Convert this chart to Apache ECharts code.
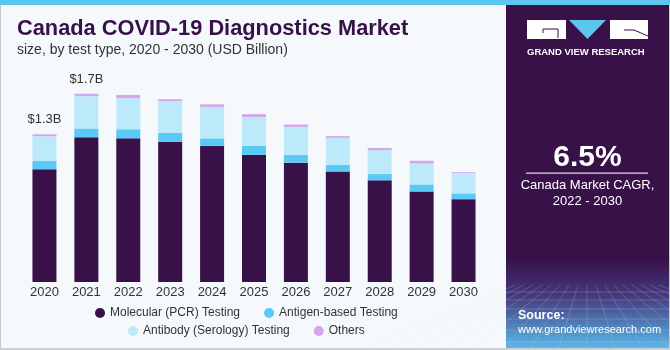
<!DOCTYPE html>
<html>
<head>
<meta charset="utf-8">
<script src="https://cdn.jsdelivr.net/npm/echarts@6/dist/echarts.min.js"></script>
<style>
  html, body { margin: 0; padding: 0; }
  #chart { width: 670px; height: 350px; }
</style>
</head>
<body>
<div id="chart"></div>
<script>
// values, USD billion
var years = ['2020', '2021', '2022', '2023', '2024', '2025', '2026', '2027', '2028', '2029', '2030'];
var molecular = [1.02, 1.31, 1.30, 1.27, 1.23, 1.15, 1.08, 1.00, 0.92, 0.82, 0.75];
var antigen = [0.075, 0.079, 0.082, 0.082, 0.07, 0.082, 0.069, 0.06, 0.057, 0.063, 0.052];
var antibody = [0.224, 0.293, 0.281, 0.284, 0.284, 0.26, 0.254, 0.245, 0.215, 0.19, 0.184];
var others = [0.018, 0.022, 0.03, 0.018, 0.024, 0.027, 0.022, 0.015, 0.021, 0.024, 0.008];
var totalLabels = ['$1.3B', '$1.7B'];

var PURPLE = '#381149';
var font = 'Liberation Sans';

var chart = echarts.init(document.getElementById('chart'));

function barSeries(name, data, color) {
  return {
    name: name,
    type: 'bar',
    stack: 'total',
    barWidth: 24,
    data: data,
    itemStyle: { color: color },
    emphasis: { disabled: true }
  };
}

var othersSeries = barSeries('Others', others.map(function (v, i) {
  if (i < totalLabels.length) {
    return { value: v, label: { show: true, formatter: totalLabels[i] } };
  }
  return v;
}), '#d4a7ea');
othersSeries.label = {
  show: false, position: 'top', distance: 8,
  color: '#333', fontSize: 13, fontFamily: font
};

// faint perspective grid at the bottom of the side panel
var gridLines = [];
[292, 300, 309, 319, 330, 342].forEach(function (y) {
  gridLines.push({ type: 'line', shape: { x1: 506, y1: y, x2: 669, y2: y }, style: { stroke: 'rgba(200,225,255,0.22)', lineWidth: 1 }, silent: true });
});
for (var k = -8; k <= 8; k++) {
  gridLines.push({ type: 'line', shape: { x1: 587 + k * 9, y1: 285, x2: 587 + k * 28, y2: 348 }, style: { stroke: 'rgba(200,225,255,0.2)', lineWidth: 1 }, silent: true });
}

chart.setOption({
  backgroundColor: '#f5f9fc',
  animation: false,
  grid: { left: 23.5, right: 185.5, top: 61, bottom: 68 },
  xAxis: {
    type: 'category',
    data: years,
    axisLine: { show: false },
    axisTick: { show: false },
    axisLabel: { color: '#333', fontSize: 13, fontFamily: font, margin: 4 }
  },
  yAxis: {
    type: 'value', min: 0, max: 2,
    show: false,
    splitLine: { show: false }
  },
  legend: [
    {
      data: ['Molecular (PCR) Testing', 'Antigen-based Testing'],
      left: 90, top: 302, icon: 'circle', itemWidth: 10, itemHeight: 10,
      itemGap: 24,
      textStyle: { color: '#333', fontSize: 12, fontFamily: font }
    },
    {
      data: ['Antibody (Serology) Testing', 'Others'],
      left: 123, top: 320, icon: 'circle', itemWidth: 10, itemHeight: 10,
      itemGap: 24,
      textStyle: { color: '#333', fontSize: 12, fontFamily: font }
    }
  ],
  series: [
    barSeries('Molecular (PCR) Testing', molecular, PURPLE),
    barSeries('Antigen-based Testing', antigen, '#5bc9f5'),
    barSeries('Antibody (Serology) Testing', antibody, '#bdeafa'),
    othersSeries
  ],
  graphic: [
    // frame
    { type: 'rect', shape: { x: 0, y: 0, width: 1, height: 350 }, style: { fill: '#c8c8c8' }, silent: true },
    { type: 'rect', shape: { x: 0, y: 348, width: 670, height: 2 }, style: { fill: '#cfcfcf' }, silent: true },
    { type: 'rect', shape: { x: 0, y: 0, width: 670, height: 5 }, style: { fill: '#5cc6ef' }, silent: true },
    // right panel
    {
      type: 'rect', shape: { x: 506, y: 5, width: 163, height: 343 }, silent: true,
      style: {
        fill: new echarts.graphic.LinearGradient(0, 0, 0, 1, [
          { offset: 0, color: PURPLE },
          { offset: 0.74, color: PURPLE },
          { offset: 0.85, color: '#463a7e' },
          { offset: 1, color: '#5ab8e8' }
        ])
      }
    },
    { type: 'rect', shape: { x: 669, y: 5, width: 1, height: 343 }, style: { fill: '#c8c8c8' }, silent: true }
  ].concat(gridLines).concat([
    // logo
    { type: 'rect', shape: { x: 527, y: 20, width: 39, height: 19 }, style: { fill: '#fff' }, silent: true },
    { type: 'polyline', shape: { points: [[543, 33], [543, 29], [558, 29], [558, 38]] }, style: { stroke: PURPLE, lineWidth: 1, fill: null }, silent: true },
    { type: 'polygon', shape: { points: [[569, 20], [606, 20], [587.5, 39]] }, style: { fill: '#5cc6ef' }, silent: true },
    { type: 'rect', shape: { x: 610, y: 20, width: 38, height: 19 }, style: { fill: '#fff' }, silent: true },
    { type: 'polyline', shape: { points: [[624, 30], [634, 30], [648, 36]] }, style: { stroke: PURPLE, lineWidth: 1, fill: null }, silent: true },
    {
      type: 'text', left: 527, top: 47, silent: true,
      style: { text: 'GRAND VIEW RESEARCH', fill: '#fff', font: 'bold 9.5px ' + font }
    },
    // CAGR
    {
      type: 'text', x: 587.5, y: 158, silent: true,
      style: { text: '6.5%', fill: '#fff', font: 'bold 30px ' + font, align: 'center', verticalAlign: 'middle' }
    },
    { type: 'rect', shape: { x: 526, y: 172.5, width: 122, height: 1.2 }, style: { fill: '#e0d8e6' }, silent: true },
    {
      type: 'text', x: 587.5, y: 193, silent: true,
      style: { text: 'Canada Market CAGR,\n2022 - 2030', fill: '#fff', font: '13px ' + font, align: 'center', verticalAlign: 'middle', lineHeight: 16 }
    },
    // source
    {
      type: 'text', left: 518, top: 309, silent: true,
      style: { text: 'Source:', fill: '#fff', font: 'bold 12.5px ' + font }
    },
    {
      type: 'text', left: 518, top: 324, silent: true,
      style: { text: 'www.grandviewresearch.com', fill: '#fff', font: '11px ' + font }
    },
    // title
    {
      type: 'text', left: 17, top: 18, silent: true,
      style: { text: 'Canada COVID-19 Diagnostics Market', fill: PURPLE, font: 'bold 21.8px ' + font }
    },
    {
      type: 'text', left: 17, top: 43, silent: true,
      style: { text: 'size, by test type, 2020 - 2030 (USD Billion)', fill: '#333', font: '14px ' + font }
    }
  ])
});
</script>
</body>
</html>
